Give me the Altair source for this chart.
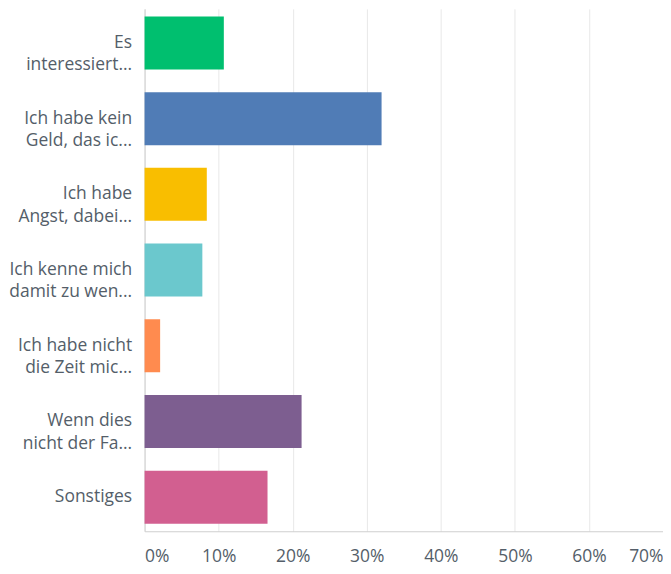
import altair as alt
import pandas as pd

labels = [
    "Es\ninteressiert...",
    "Ich habe kein\nGeld, das ic...",
    "Ich habe\nAngst, dabei...",
    "Ich kenne mich\ndamit zu wen...",
    "Ich habe nicht\ndie Zeit mic...",
    "Wenn dies\nnicht der Fa...",
    "Sonstiges",
]
values = [0.107, 0.320, 0.084, 0.078, 0.021, 0.212, 0.166]
colors = ["#00BF6F", "#507CB6", "#F9BE00", "#6BC8CD", "#FF8B4F", "#7D5E90", "#D25F90"]

df = pd.DataFrame({"label": labels, "value": values, "color": colors})

font = "Open Sans"
text_color = "#545e69"

chart = (
    alt.Chart(df)
    .mark_bar()
    .encode(
        y=alt.Y(
            "label:N",
            sort=labels,
            title=None,
            scale=alt.Scale(paddingInner=0.3, paddingOuter=0.1),
            axis=alt.Axis(
                labelExpr="split(datum.label, '\\n')",
                labelFont=font,
                labelFontSize=17.5,
                labelColor=text_color,
                labelLineHeight=22.5,
                labelPadding=13,
                labelLimit=200,
                ticks=False,
                domainColor="#cfcfcf",
                grid=False,
            ),
        ),
        x=alt.X(
            "value:Q",
            title=None,
            scale=alt.Scale(domain=[0, 0.7], nice=False),
            axis=alt.Axis(
                format=".0%",
                values=[0, 0.1, 0.2, 0.3, 0.4, 0.5, 0.6, 0.7],
                labelFont=font,
                labelFontSize=17.5,
                labelColor=text_color,
                labelPadding=16,
                labelFlush=True,
                ticks=False,
                domainColor="#cfcfcf",
                gridColor="#e8e8e8",
            ),
        ),
        color=alt.Color("color:N", scale=None, legend=None),
    )
    .properties(width=520, height=524, padding=0)
    .configure_view(stroke=None)
)

chart.save("out.html", embed_options={"renderer": "svg", "actions": False})
